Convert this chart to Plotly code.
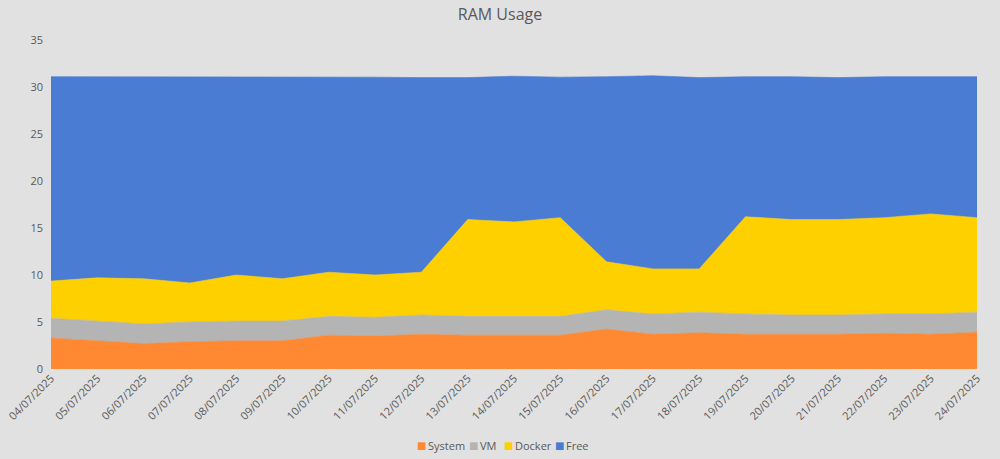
import plotly.graph_objects as go

dates = ["04/07/2025", "05/07/2025", "06/07/2025", "07/07/2025", "08/07/2025", "09/07/2025",
         "10/07/2025", "11/07/2025", "12/07/2025", "13/07/2025", "14/07/2025", "15/07/2025",
         "16/07/2025", "17/07/2025", "18/07/2025", "19/07/2025", "20/07/2025", "21/07/2025",
         "22/07/2025", "23/07/2025", "24/07/2025"]

system = [3.3, 3.0, 2.7, 2.9, 3.0, 3.0, 3.6, 3.5, 3.7, 3.6, 3.6, 3.6, 4.25, 3.7, 3.85, 3.7, 3.7, 3.7, 3.8, 3.7, 3.9]
vm = [2.1, 2.1, 2.1, 2.1, 2.1, 2.1, 2.0, 2.0, 2.05, 2.0, 2.0, 2.0, 2.05, 2.15, 2.2, 2.15, 2.05, 2.05, 2.05, 2.15, 2.15]
docker = [3.95, 4.6, 4.8, 4.15, 4.9, 4.5, 4.7, 4.5, 4.55, 10.3, 10.05, 10.5, 5.1, 4.8, 4.6, 10.35, 10.15, 10.15, 10.25, 10.65, 10.05]
free = [21.75, 21.4, 21.5, 21.95, 21.1, 21.5, 20.8, 21.05, 20.7, 15.1, 15.5, 14.95, 19.7, 20.55, 20.35, 14.9, 15.2, 15.1, 15.0, 14.6, 15.0]

names = ["System", "VM", "Docker", "Free"]
colors = ["#FF8833", "#B4B4B4", "#FFD000", "#4A7CD4"]
values = [system, vm, docker, free]

fig = go.Figure()
for name, vals, col in zip(names, values, colors):
    fig.add_trace(go.Scatter(x=dates, y=vals, name=name, mode="lines", stackgroup="one",
                             line=dict(width=0.6, color=col), fillcolor=col, showlegend=False))

# legend drawn as text annotations (square swatch + label), laid out as in the reference
W, L, T, H = 1000, 51, 40, 329
PW = W - L - 23
legend_px = [418, 470, 505, 556]
legend_y = (T + H - 445) / H
for name, col, px in zip(names, colors, legend_px):
    fig.add_annotation(x=(px + 3.5 - L) / PW, y=legend_y, xref="paper", yref="paper",
                       text="■", showarrow=False, xanchor="center", yanchor="middle",
                       font=dict(size=10, color=col, family="DejaVu Sans"))
    fig.add_annotation(x=(px + 7.5 - L) / PW, y=legend_y, xref="paper", yref="paper",
                       text=name, showarrow=False, xanchor="left", yanchor="middle",
                       font=dict(size=11, color="#595959"))

fig.update_layout(
    width=1000, height=459,
    paper_bgcolor="#E1E1E1", plot_bgcolor="#E1E1E1",
    margin=dict(l=L, r=23, t=T, b=90),
    title=dict(text="RAM Usage", x=0.5, xanchor="center", y=0.968, yanchor="middle",
               font=dict(family="Open Sans, Liberation Sans, sans-serif", size=16, color="#595959")),
    font=dict(family="Open Sans, Liberation Sans, sans-serif", size=11, color="#595959"),
    showlegend=False,
    xaxis=dict(type="category", range=[0, 20], tickangle=-45, showgrid=False, zeroline=False,
               showline=False, ticks="", automargin=False,
               tickfont=dict(size=11, color="#595959")),
    yaxis=dict(range=[0, 35], dtick=5, showgrid=True, gridcolor="#D0D0D0", zeroline=False,
               ticks="", automargin=False, ticklabelstandoff=7,
               tickfont=dict(size=11, color="#595959")),
)

fig.write_html("out.html")
